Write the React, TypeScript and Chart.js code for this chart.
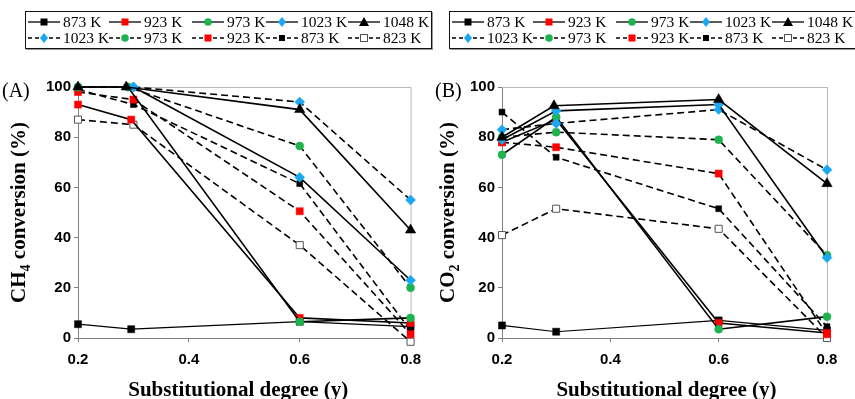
import React, { useEffect, useRef } from "react";
import { Chart, registerables } from "chart.js";
Chart.register(...registerables);

// ---- tick values & labels ----
const xTicks = [0.2, 0.4, 0.6, 0.8];
const yTicks = [0, 20, 40, 60, 80, 100];
const legendRow1 = ["873 K", "923 K", "973 K", "1023 K", "1048 K"];
const legendRow2 = ["1023 K", "973 K", "923 K", "873 K", "823 K"];

// ---- x positions (substitutional degree) ----
const xStd = [0.2, 0.3, 0.6, 0.8];
const xA1048 = [0.2, 0.287, 0.6, 0.8];
const xA973 = [0.2, 0.29, 0.6, 0.8];
const xA923 = [0.2, 0.296, 0.6, 0.8];
const xB1048 = [0.2, 0.296, 0.6, 0.8];

// ---- (A) CH4 conversion (%) ----
const ch4Solid873 = [5.5, 3.5, 6.5, 4.5];
const ch4Solid923 = [93, 87, 8, 6];
const ch4Solid973 = [100, 100, 6.5, 8];
const ch4Solid1023 = [null, 100, 64, 23];
const ch4Solid1048 = [100, 100, 91, 43];
const ch4Dash1023 = [null, 100, 94, 55];
const ch4Dash973 = [100, 100, 76.5, 20];
const ch4Dash923 = [98, 95, 50.5, 1.5];
const ch4Dash873 = [99, 93, 61.5, 3];
const ch4Dash823 = [87, 85, 37, -1.5];

// ---- (B) CO2 conversion (%) ----
const co2Solid873 = [5, 2.5, 7, 3];
const co2Solid923 = [78, 87, 6, 2];
const co2Solid973 = [73, 88, 3.5, 8.5];
const co2Solid1023 = [79, 90.5, 93, 32];
const co2Solid1048 = [80, 92.5, 95, 61.5];
const co2Dash1023 = [83, 85.5, 91, 67];
const co2Dash973 = [80, 82, 79, 33];
const co2Dash923 = [78, 76, 65.5, 1.5];
const co2Dash873 = [90, 72, 51.5, 4.5];
const co2Dash823 = [41, 51.5, 43.5, 0];

const CYAN = "#1aa8f2";
const GREEN = "#1db34f";
const RED = "#ff0000";
const BLACK = "#000000";

type Sty = { color: string; shape: string; r: number; dashed: boolean; open?: boolean; lw?: number };
const S = {
  s873: { color: BLACK, shape: "rect", r: 5, dashed: false, lw: 1.2 },
  s923: { color: RED, shape: "rect", r: 5, dashed: false },
  s973: { color: GREEN, shape: "circle", r: 4, dashed: false },
  s1023: { color: CYAN, shape: "rectRot", r: 5, dashed: false },
  s1048: { color: BLACK, shape: "triangle", r: 6, dashed: false },
  d1023: { color: CYAN, shape: "rectRot", r: 5, dashed: true },
  d973: { color: GREEN, shape: "circle", r: 4, dashed: true },
  d923: { color: RED, shape: "rect", r: 5, dashed: true },
  d873: { color: BLACK, shape: "rect", r: 4.2, dashed: true },
  d823: { color: "#555", shape: "rect", r: 5, dashed: true, open: true },
} as Record<string, Sty>;

function ds(label: string, xs: number[], ys: (number | null)[], st: Sty) {
  return {
    label,
    data: xs.map((x, i) => ({ x, y: ys[i] })),
    borderColor: "#000",
    borderWidth: st.lw ?? 1.6,
    borderDash: st.dashed ? [7, 4] : [],
    pointStyle: st.shape,
    pointRadius: st.r,
    pointBackgroundColor: st.open ? "#fff" : st.color,
    pointBorderColor: st.color,
    pointBorderWidth: st.open ? 1 : 0.5,
    tension: 0,
    clip: false as any,
    spanGaps: false,
  };
}

const decorPlugin = {
  id: "decor",
  beforeDatasetsDraw(chart: any) {
    const { ctx, chartArea: a } = chart;
    ctx.save();
    ctx.strokeStyle = "#b8b8b8";
    ctx.lineWidth = 1;
    ctx.beginPath();
    ctx.moveTo(a.left, a.top + 0.5);
    ctx.lineTo(a.right + 0.5, a.top + 0.5);
    ctx.lineTo(a.right + 0.5, a.bottom);
    ctx.stroke();
    ctx.restore();
  },
  afterDraw(chart: any, _args: any, o: any) {
    const { ctx, chartArea: a } = chart;
    ctx.save();
    ctx.fillStyle = "#000";
    // panel label
    ctx.font = '20px "Liberation Serif", "Times New Roman", serif';
    ctx.textAlign = "left";
    ctx.textBaseline = "alphabetic";
    ctx.fillText(o.panel, a.left + o.panelDx, 97);
    // x title
    ctx.font = 'bold 21px "Liberation Serif", "Times New Roman", serif';
    ctx.textAlign = "center";
    ctx.fillText("Substitutional degree (y)", (a.left + a.right) / 2 + o.xTitleDx, a.bottom + 58);
    // y title with subscript
    const big = 'bold 21px "Liberation Serif", "Times New Roman", serif';
    const small = 'bold 14px "Liberation Serif", "Times New Roman", serif';
    ctx.translate(a.left + o.yTitleDx, (a.top + a.bottom) / 2);
    ctx.rotate(-Math.PI / 2);
    ctx.textAlign = "left";
    ctx.font = big;
    const w1 = ctx.measureText(o.mol).width;
    const w3 = ctx.measureText(" conversion (%)").width;
    ctx.font = small;
    const w2 = ctx.measureText(o.sub).width;
    let x = -(w1 + w2 + w3) / 2;
    ctx.font = big;
    ctx.fillText(o.mol, x, 0);
    ctx.font = small;
    ctx.fillText(o.sub, x + w1, 5);
    ctx.font = big;
    ctx.fillText(" conversion (%)", x + w1 + w2, 0);
    ctx.restore();
  },
};

const tickFont = { family: '"Liberation Sans", Arial, sans-serif', size: 15, weight: "bold" as const };

function makeConfig(datasets: any[], yAxisW: number, padRight: number, deco: any): any {
  return {
    type: "line",
    data: { datasets },
    plugins: [decorPlugin],
    options: {
      animation: false,
      responsive: false,
      layout: { padding: { top: 87, right: padRight, left: 0, bottom: 0 } },
      plugins: { legend: { display: false }, tooltip: { enabled: false }, decor: deco },
      scales: {
        x: {
          type: "linear",
          min: 0.2,
          max: 0.8,
          afterBuildTicks: (s: any) => {
            s.ticks = xTicks.map((v) => ({ value: v }));
          },
          afterFit: (s: any) => {
            s.height = 61;
          },
          ticks: {
            font: tickFont,
            color: "#000",
            padding: 9,
            maxRotation: 0,
            autoSkip: false,
            callback: (v: any) => Number(v).toFixed(1),
          },
          grid: { drawOnChartArea: false, drawTicks: true, tickLength: 4, color: "#808080" },
          border: { display: true, color: "#808080", width: 1 },
        },
        y: {
          type: "linear",
          min: 0,
          max: 100,
          afterBuildTicks: (s: any) => {
            s.ticks = yTicks.map((v) => ({ value: v }));
          },
          afterFit: (s: any) => {
            s.width = yAxisW;
          },
          ticks: { font: tickFont, color: "#000", padding: 3, callback: (v: any) => String(v) },
          grid: { drawOnChartArea: false, drawTicks: true, tickLength: 4, color: "#808080" },
          border: { display: true, color: "#808080", width: 1 },
        },
      },
    },
  };
}

function Marker({ kind }: { kind: string }) {
  const cx = 16, cy = 7;
  switch (kind) {
    case "s873":
      return <rect x={cx - 3.5} y={cy - 3.5} width={7} height={7} fill={BLACK} />;
    case "d873":
      return <rect x={cx - 3} y={cy - 3} width={6} height={6} fill={BLACK} />;
    case "s923":
    case "d923":
      return <rect x={cx - 3.5} y={cy - 3.5} width={7} height={7} fill={RED} />;
    case "s973":
    case "d973":
      return <circle cx={cx} cy={cy} r={3.8} fill={GREEN} />;
    case "s1023":
    case "d1023":
      return <polygon points={`${cx},${cy - 5} ${cx + 4},${cy} ${cx},${cy + 5} ${cx - 4},${cy}`} fill={CYAN} />;
    case "s1048":
      return <polygon points={`${cx},${cy - 5} ${cx + 5},${cy + 4} ${cx - 5},${cy + 4}`} fill={BLACK} />;
    default:
      return <rect x={cx - 3.5} y={cy - 3.5} width={7} height={7} fill="#fff" stroke="#555" strokeWidth={1} />;
  }
}

const colStarts = [2, 83, 166, 240, 322];
const row1Kinds = ["s873", "s923", "s973", "s1023", "s1048"];
const row2Kinds = ["d1023", "d973", "d923", "d873", "d823"];

function Legend({ left }: { left: number }) {
  const rows = [
    { labels: legendRow1, kinds: row1Kinds, dashed: false, cy: 9.5 },
    { labels: legendRow2, kinds: row2Kinds, dashed: true, cy: 25.5 },
  ];
  return (
    <div
      style={{
        position: "absolute",
        left,
        top: 11,
        width: 407,
        height: 38,
        boxSizing: "border-box",
        border: "1px solid #111",
        boxShadow: "1px 1px 0 #999",
        background: "#fff",
      }}
    >
      {rows.map((row, ri) =>
        row.labels.map((lab, i) => (
          <div
            key={ri + "-" + i}
            style={{
              position: "absolute",
              left: colStarts[i],
              top: row.cy - 7,
              height: 14,
              display: "flex",
              alignItems: "center",
              whiteSpace: "nowrap",
            }}
          >
            <svg width={32} height={14} style={{ display: "block" }}>
              <line
                x1={0}
                y1={7}
                x2={32}
                y2={7}
                stroke="#000"
                strokeWidth={1.3}
                strokeDasharray={row.dashed ? "4 3" : undefined}
              />
              <Marker kind={row.kinds[i]} />
            </svg>
            <span
              style={{
                marginLeft: 3,
                font: '15.5px "Liberation Serif", "Times New Roman", serif',
                color: "#000",
                lineHeight: "14px",
              }}
            >
              {lab}
            </span>
          </div>
        ))
      )}
    </div>
  );
}

export default function App() {
  const refA = useRef<HTMLCanvasElement>(null);
  const refB = useRef<HTMLCanvasElement>(null);

  useEffect(() => {
    const dsA = [
      ds("1048 K", xA1048, ch4Solid1048, S.s1048),
      ds("1023 K", xStd, ch4Solid1023, S.s1023),
      ds("1023 K (dashed)", xStd, ch4Dash1023, S.d1023),
      ds("973 K", xA973, ch4Solid973, S.s973),
      ds("973 K (dashed)", xA973, ch4Dash973, S.d973),
      ds("923 K", xA923, ch4Solid923, S.s923),
      ds("923 K (dashed)", xStd, ch4Dash923, S.d923),
      ds("823 K", xStd, ch4Dash823, S.d823),
      ds("873 K", xA923, ch4Solid873, S.s873),
      ds("873 K (dashed)", xStd, ch4Dash873, S.d873),
    ];
    const dsB = [
      ds("1048 K", xB1048, co2Solid1048, S.s1048),
      ds("1023 K", xStd, co2Solid1023, S.s1023),
      ds("1023 K (dashed)", xStd, co2Dash1023, S.d1023),
      ds("973 K", xStd, co2Solid973, S.s973),
      ds("973 K (dashed)", xStd, co2Dash973, S.d973),
      ds("923 K", xStd, co2Solid923, S.s923),
      ds("923 K (dashed)", xStd, co2Dash923, S.d923),
      ds("823 K", xStd, co2Dash823, S.d823),
      ds("873 K", xStd, co2Solid873, S.s873),
      ds("873 K (dashed)", xStd, co2Dash873, S.d873),
    ];
    const a = new Chart(
      refA.current!,
      makeConfig(dsA, 78, 17, { panel: "(A)", panelDx: -76, mol: "CH", sub: "4", yTitleDx: -53, xTitleDx: -6 })
    );
    const b = new Chart(
      refB.current!,
      makeConfig(dsB, 72, 28, { panel: "(B)", panelDx: -67, mol: "CO", sub: "2", yTitleDx: -48, xTitleDx: 2 })
    );
    return () => {
      a.destroy();
      b.destroy();
    };
  }, []);

  return (
    <div
      style={{
        position: "fixed",
        left: 0,
        top: 0,
        width: 855,
        height: 399,
        background: "#fff",
        overflow: "hidden",
      }}
    >
      <canvas ref={refA} width={430} height={399} style={{ position: "absolute", left: 0, top: 0 }} />
      <canvas ref={refB} width={425} height={399} style={{ position: "absolute", left: 430, top: 0 }} />
      <Legend left={25} />
      <Legend left={449} />
    </div>
  );
}
